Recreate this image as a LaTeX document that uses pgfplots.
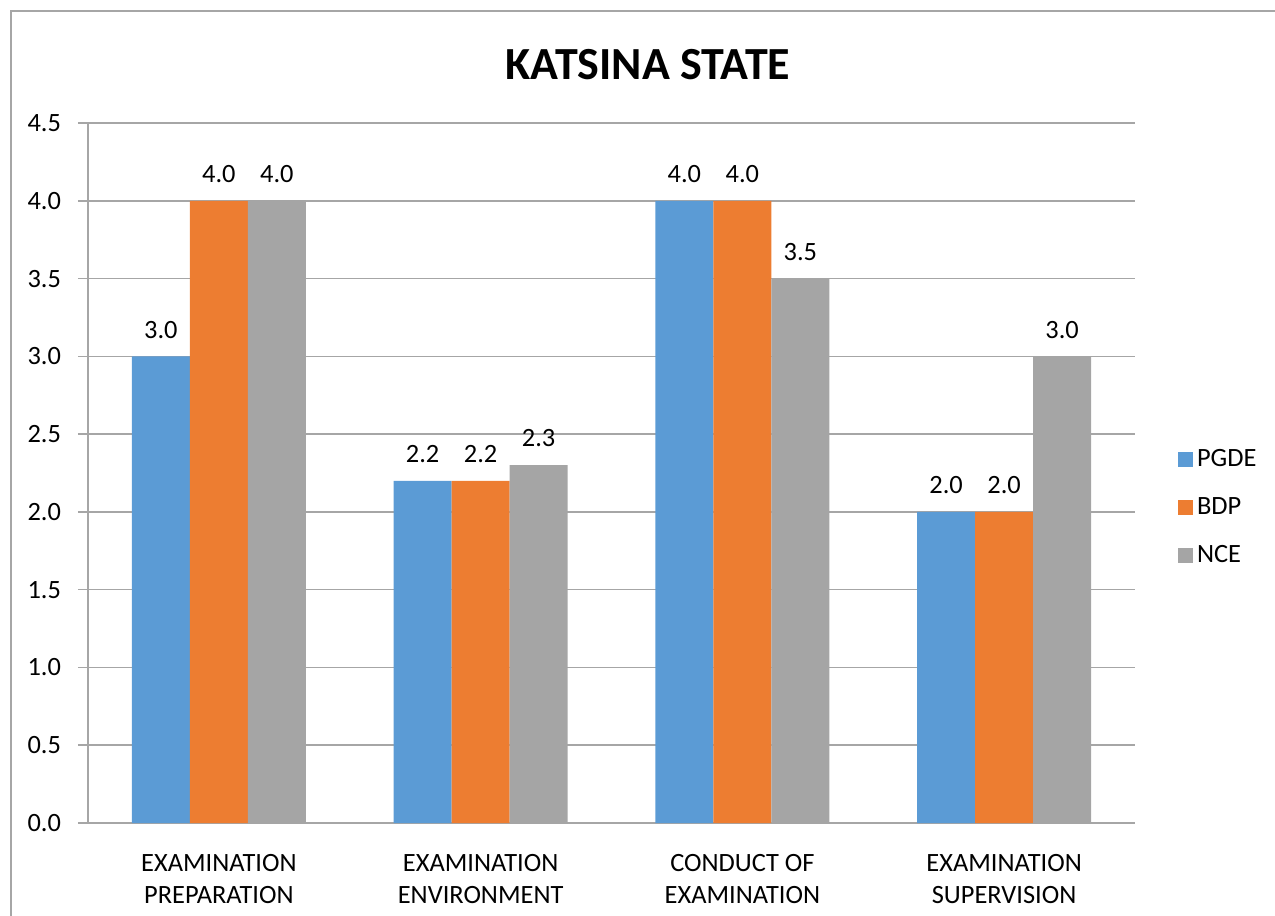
\documentclass[border=0pt]{standalone}
\usepackage{pgfplots}
\pgfplotsset{compat=1.18}
\usepackage{fontspec}
\setmainfont{Carlito}
\definecolor{cblue}{HTML}{5B9BD5}
\definecolor{corange}{HTML}{ED7D31}
\definecolor{cgray}{HTML}{A5A5A5}
\definecolor{gridc}{HTML}{A6A6A6}
\begin{document}
% 1 px of the reference = 0.5pt
\begin{tikzpicture}
\useasboundingbox (0,0) rectangle (637.5pt,458pt);
\draw[gridc, line width=0.8pt] (5.5pt,-10pt) rectangle (650pt,452.5pt);
\node[font=\fontsize{23}{27}\selectfont\bfseries] at (324pt,425.5pt) {KATSINA STATE};
\begin{axis}[
  at={(44pt,46.5pt)}, anchor=south west,
  scale only axis,
  width=523.5pt, height=350pt,
  ybar=0pt, bar width=29pt,
  ymin=0, ymax=4.5,
  xmin=-0.5, xmax=3.5,
  ytick={0,0.5,...,4.5},
  yticklabel style={/pgf/number format/fixed, /pgf/number format/fixed zerofill, /pgf/number format/precision=1, xshift=-5pt},
  /pgf/number format/assume math mode=true,
  xtick={0,1,2,3},
  xticklabels={{EXAMINATION\\PREPARATION},{EXAMINATION\\ENVIRONMENT},{CONDUCT OF\\EXAMINATION},{EXAMINATION\\SUPERVISION}},
  xticklabel style={align=center, yshift=-7pt},
  major x tick style={draw=none},
  extra x ticks={-0.5,0.5,1.5,2.5,3.5},
  extra x tick labels={},
  extra x tick style={grid=none, major x tick style={gridc, line width=0.8pt}},
  major tick length=5pt, tick align=outside,
  axis lines*=left,
  axis line style={gridc, line width=0.8pt, -},
  ymajorgrids, grid style={gridc, line width=0.8pt},
  major y tick style={gridc, line width=0.8pt},
  tick label style={font=\fontsize{13.2}{16}\selectfont, text=black},
  nodes near coords,
  nodes near coords style={font=\fontsize{13.2}{16}\selectfont, black, /pgf/number format/fixed, /pgf/number format/fixed zerofill, /pgf/number format/precision=1, /pgf/number format/assume math mode=true, yshift=5.5pt},
  legend style={at={(1.035,0.451)}, anchor=west, draw=none, fill=none,
    font=\fontsize{13.2}{16}\selectfont, row sep=10pt},
  legend image code/.code={\fill[#1] (0pt,-3.7pt) rectangle (7.5pt,3.8pt);},
  legend cell align=left,
]
\addplot[fill=cblue, draw=none] coordinates {(0,3.0) (1,2.2) (2,4.0) (3,2.0)};
\addlegendentry{PGDE}
\addplot[fill=corange, draw=none] coordinates {(0,4.0) (1,2.2) (2,4.0) (3,2.0)};
\addlegendentry{BDP}
\addplot[fill=cgray, draw=none] coordinates {(0,4.0) (1,2.3) (2,3.5) (3,3.0)};
\addlegendentry{NCE}
\end{axis}
\end{tikzpicture}
\end{document}
